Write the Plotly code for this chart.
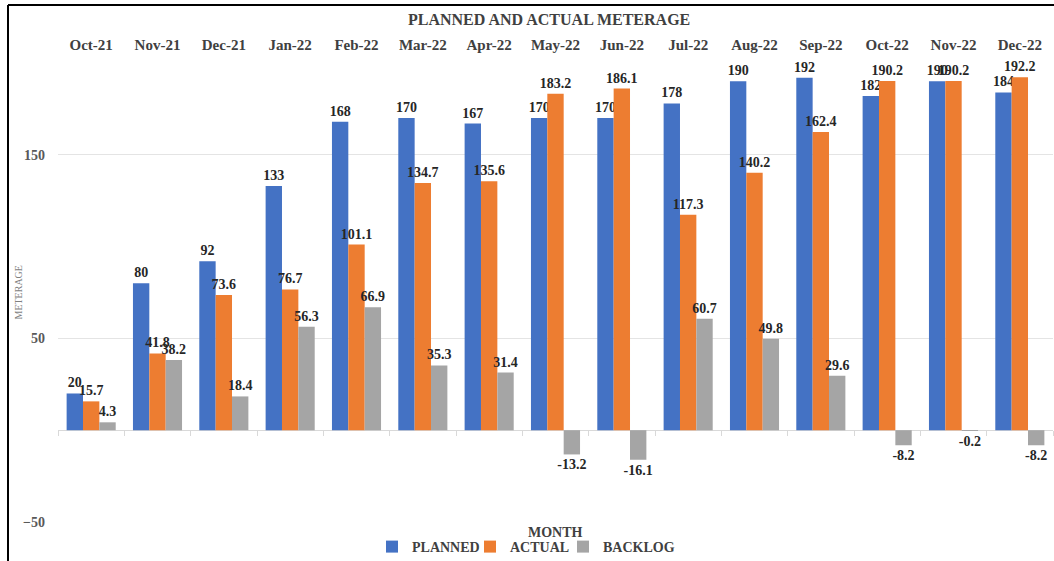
import plotly.graph_objects as go

months = ["Oct-21", "Nov-21", "Dec-21", "Jan-22", "Feb-22", "Mar-22", "Apr-22", "May-22",
          "Jun-22", "Jul-22", "Aug-22", "Sep-22", "Oct-22", "Nov-22", "Dec-22"]
planned = [20, 80, 92, 133, 168, 170, 167, 170, 170, 178, 190, 192, 182, 190, 184]
actual = [15.7, 41.8, 73.6, 76.7, 101.1, 134.7, 135.6, 183.2, 186.1, 117.3, 140.2, 162.4, 190.2, 190.2, 192.2]
backlog = [4.3, 38.2, 18.4, 56.3, 66.9, 35.3, 31.4, -13.2, -16.1, 60.7, 49.8, 29.6, -8.2, -0.2, -8.2]

y_min, y_max = -50, 200
SERIF = "Liberation Serif, DejaVu Serif, serif"
LABEL_FONT = dict(family=SERIF, size=14, color="#262626", weight="bold")
LEGEND_FONT = dict(family=SERIF, size=14, color="#404040", weight="bold")

PH = 459.0  # plot height in px
PW = 995.0  # plot width in px

series = [("PLANNED", planned, "#4472C4", "legend", 372),
          ("ACTUAL", actual, "#ED7D31", "legend2", 470),
          ("BACKLOG", backlog, "#A5A5A5", "legend3", 563)]

fig = go.Figure()
legend_layouts = {}
for name, vals, col, leg, left_px in series:
    fig.add_trace(go.Bar(
        x=months, y=vals, name=name, marker=dict(color=col, line=dict(width=0)),
        text=[f"{v:g}" for v in vals], textposition="outside", textangle=0,
        constraintext="none", cliponaxis=False, textfont=LABEL_FONT,
        xaxis="x", yaxis="y", legend=leg))
    legend_layouts[leg] = dict(orientation="h", x=(left_px - 58) / PW, xanchor="left",
                               y=-25 / PH, yanchor="middle", font=LEGEND_FONT,
                               itemwidth=30, bgcolor="rgba(0,0,0,0)")

# dummy trace to carry the top category axis
fig.add_trace(go.Scatter(x=months, y=[None] * len(months), xaxis="x2", yaxis="y",
                         showlegend=False, hoverinfo="skip", mode="markers"))

zero_frac = (0 - y_min) / (y_max - y_min)
x_range = [-0.5, len(months) - 0.5]

fig.update_layout(
    width=1054, height=561,
    margin=dict(l=58, r=1, t=63, b=39, autoexpand=False),
    paper_bgcolor="white", plot_bgcolor="white",
    barmode="group", bargap=0.26, bargroupgap=0,
    showlegend=True,
    **legend_layouts,
    xaxis=dict(type="category", anchor="free", position=zero_frac, range=x_range,
               showticklabels=False, ticks="outside", tickson="boundaries",
               ticklen=5, tickcolor="#D9D9D9", showline=False, showgrid=False,
               zeroline=False),
    xaxis2=dict(type="category", overlaying="x", side="top", matches="x",
                showticklabels=True, ticks="", showline=False, showgrid=False,
                tickfont=dict(family=SERIF, size=15, color="#404040", weight="bold"),
                ticklabelstandoff=9),
    yaxis=dict(range=[y_min, y_max], tickvals=[-50, 50, 150],
               showgrid=True, gridcolor="#E4E4E4", gridwidth=1,
               zeroline=True, zerolinecolor="#D9D9D9", zerolinewidth=1,
               showline=False, ticks="",
               tickfont=dict(family=SERIF, size=14, color="#595959", weight="bold"),
               ticklabelstandoff=12),
    annotations=[
        dict(text="PLANNED AND ACTUAL METERAGE", xref="paper", yref="paper",
             x=491 / PW, y=1 + 44 / PH, xanchor="center", yanchor="middle", showarrow=False,
             font=dict(family=SERIF, size=16, color="#404040", weight="bold")),
        dict(text="MONTH", xref="paper", yref="paper", x=497 / PW, y=-10 / PH,
             xanchor="center", yanchor="middle", showarrow=False,
             font=dict(family=SERIF, size=14, color="#404040", weight="bold")),
        dict(text="METERAGE", xref="paper", yref="paper", x=-40 / PW, y=0.5,
             xanchor="center", yanchor="middle", textangle=-90, showarrow=False,
             font=dict(family=SERIF, size=10, color="#7F7F7F")),
    ],
    shapes=[
        dict(type="line", xref="paper", yref="paper", x0=-50 / PW, x1=1.01,
             y0=1 + 58 / PH, y1=1 + 58 / PH, line=dict(color="black", width=2)),
        dict(type="line", xref="paper", yref="paper", x0=-50 / PW, x1=-50 / PW,
             y0=1 + 58 / PH, y1=-40 / PH, line=dict(color="black", width=2)),
    ],
)

fig.write_html("out.html")
